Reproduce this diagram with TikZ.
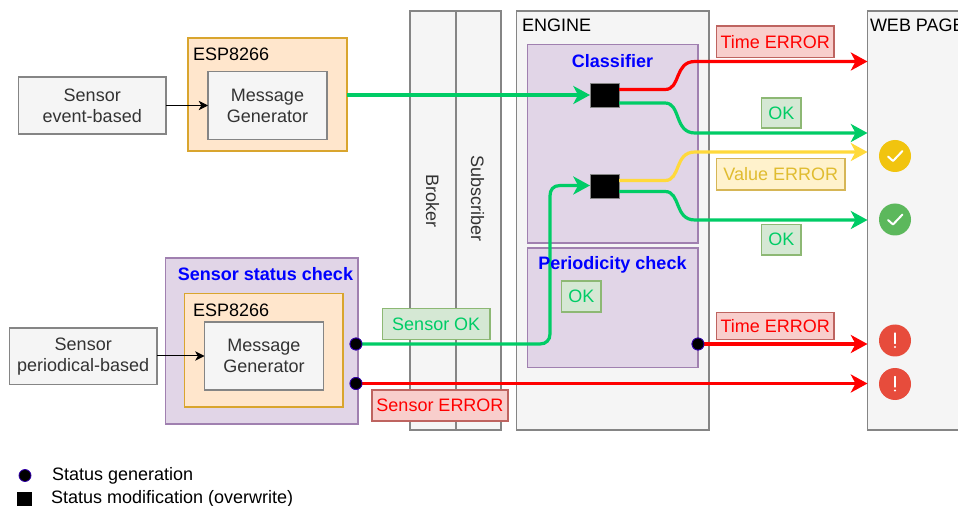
\documentclass[tikz,border=0pt]{standalone}
\usepackage{fontspec}
\setmainfont{Liberation Sans}
\usetikzlibrary{arrows.meta,calc}
\definecolor{grayfill}{HTML}{F5F5F5}
\definecolor{graydraw}{HTML}{858585}
\definecolor{graytext}{HTML}{333333}
\definecolor{orfill}{HTML}{FFE6CC}
\definecolor{ordraw}{HTML}{D9A52E}
\definecolor{pufill}{HTML}{E1D5E7}
\definecolor{pudraw}{HTML}{A080B0}
\definecolor{grfill}{HTML}{D5E8D4}
\definecolor{grdraw}{HTML}{8DB874}
\definecolor{grline}{HTML}{00CC66}
\definecolor{refill}{HTML}{F8CECC}
\definecolor{redraw}{HTML}{BE6460}
\definecolor{yefill}{HTML}{FFF2CC}
\definecolor{yedraw}{HTML}{D6B656}
\definecolor{yetext}{HTML}{E0BC30}
\definecolor{yeline}{HTML}{FFD93B}
\definecolor{icony}{HTML}{F1C40F}
\definecolor{icong}{HTML}{5CB85C}
\definecolor{iconr}{HTML}{E74C3C}
\newcommand{\pxbox}[7]{%
  \pgfmathsetmacro{\bw}{#5-#3}\pgfmathsetmacro{\bh}{#6-#4}%
  \node[#2,minimum width=\bw*0.75pt,minimum height=\bh*0.75pt] (#1) at ({(#3+#5)/2},{(#4+#6)/2}) {#7};}
\tikzset{
  x=0.75pt,y=-0.75pt,
  every node/.style={font=\fontsize{13.5pt}{15.75pt}\selectfont,inner sep=0pt,outer sep=0pt,align=center},
  graybox/.style={draw=graydraw,fill=grayfill,line width=0.8pt,text=graytext},
  espbox/.style={draw=ordraw,fill=orfill,line width=0.8pt},
  purplebox/.style={draw=pudraw,fill=pufill,line width=0.8pt},
  oktag/.style={draw=grdraw,fill=grfill,line width=0.8pt,text=grline},
  errtag/.style={draw=redraw,fill=refill,line width=0.8pt,text=red},
  yeltag/.style={draw=yedraw,fill=yefill,line width=0.8pt,text=yetext},
  titletext/.style={font=\fontsize{13.5pt}{16.2pt}\selectfont\bfseries,text=blue},
  plain/.style={text=black},
  flow/.style={line width=2.4pt,-{Stealth[length=12.5pt,width=13.5pt,inset=3.5pt]}},
  thin arrow/.style={draw=black,line width=0.75pt,-{Stealth[length=7pt,width=7pt,inset=2pt]}},
  gendot/.style={circle,fill=black,draw={rgb,255:red,50;green,0;blue,170},line width=0.6pt,minimum size=9pt},
  modsq/.style={fill=black,draw=graydraw,line width=0.4pt},
  icon/.style={circle,minimum size=24pt},
  iconmark/.style={draw=white,line width=1.5pt,line cap=round,line join=round},
}
\begin{document}
\begin{tikzpicture}
\useasboundingbox (0,0) rectangle (958,506);
\clip (0,0) rectangle (958,506);
\fill[white] (0,0) rectangle (958,506);
% containers
\pxbox{broker}{graybox}{410}{11}{456}{430}{}
\pxbox{subscriber}{graybox}{456}{11}{501}{430}{}
\node[plain,rotate=-90,text=graytext] (brokerlab) at (432.5,201) {Broker};
\node[plain,rotate=-90,text=graytext] (sublab) at (477.5,198.5) {Subscriber};
\pxbox{engine}{graybox}{516.5}{11}{709}{430}{}
\pxbox{web}{graybox}{867.5}{11}{990}{430}{}
\pxbox{classifier}{purplebox}{527.5}{44.5}{698}{243}{}
\pxbox{periodicity}{purplebox}{527.5}{248}{698}{367.5}{}
\node[plain,anchor=west] (enginelab) at (522,25.5) {ENGINE};
\node[plain,anchor=west] (weblab) at (870,25.5) {WEB PAGE};
% sensors
\pxbox{sensorA}{graybox}{18.5}{77}{166}{134}{Sensor\\event-based}
\pxbox{espA}{espbox}{188}{38}{347}{151}{}
\node[plain,anchor=west] (espAlab) at (193,54.5) {ESP8266};
\pxbox{msgA}{graybox}{208}{71.5}{327}{139.5}{Message\\Generator}
\pxbox{sensorB}{graybox}{9.5}{328}{157}{384.5}{Sensor\\periodical-based}
\pxbox{status}{purplebox}{165.5}{258}{358}{424}{}
\pxbox{espB}{espbox}{184.5}{293.5}{343}{407}{}
\node[plain,anchor=west] (espBlab) at (193,310.5) {ESP8266};
\pxbox{msgB}{graybox}{204.5}{322}{323.5}{390}{Message\\Generator}
\draw[thin arrow] (sensorA.east |- 105.5,105.5) -- (msgA.west |- 105.5,105.5);
\draw[thin arrow] (sensorB.east |- 356,356) -- (msgB.west |- 356,356);
% status points
\pxbox{sqA}{modsq}{590}{83.5}{619}{107.5}{}
\pxbox{sqB}{modsq}{590}{174.5}{619}{198}{}
\node[gendot] (dotOK) at (356,344) {};
\node[gendot] (dotERR) at (356,383.5) {};
\node[gendot] (dotTime) at (698,344) {};
\coordinate (sqAin) at (590,95);
\coordinate (sqBin) at (590,185.5);
\coordinate (sqAr) at (619,89.5);
\coordinate (sqAg) at (619,103);
\coordinate (sqBy) at (619,180.5);
\coordinate (sqBg) at (619,191.5);
\coordinate (espAout) at (347,95);
\coordinate (webA) at (867.5,61.5);
\coordinate (webB) at (867.5,133);
\coordinate (webC) at (867.5,152);
\coordinate (webD) at (867.5,220);
\coordinate (webE) at (867.5,344);
\coordinate (webF) at (867.5,383.5);
% connectors
\draw[flow,grline] (espAout) -- (sqAin);
\draw[flow,grline] (dotOK) -- (540,344) .. controls (546,344) and (550,340) .. (550,334) -- (550,196) .. controls (550,190) and (553,185.5) .. (560,185.5) -- (sqBin);
\draw[flow,red] (dotERR) -- (webF);
\draw[flow,red] (dotTime) -- (webE);
\draw[flow,red] (sqAr) -- (665,89.5) .. controls (681,89.5) and (674,61.5) .. (695,61.5) -- (webA);
\draw[flow,grline] (sqAg) -- (665,103) .. controls (681,103) and (674,133) .. (695,133) -- (webB);
\draw[flow,yeline] (sqBy) -- (665,180.5) .. controls (681,180.5) and (674,152) .. (695,152) -- (webC);
\draw[flow,grline] (sqBg) -- (665,191.5) .. controls (681,191.5) and (674,220) .. (695,220) -- (webD);
% dots above line ends
\node[gendot] at (dotOK) {};
\node[gendot] at (dotERR) {};
\node[gendot] at (dotTime) {};
% titles
\node[titletext] (clslab) at (612.5,61) {Classifier};
\node[titletext] (perlab) at (612.5,265) {Periodicity check};
\node[titletext] (stalab) at (265.5,274) {Sensor status check};
% tags
\pxbox{tagTimeA}{errtag}{716.5}{26}{834}{57.5}{Time ERROR}
\pxbox{tagOKa}{oktag}{761.5}{98}{801}{128}{OK}
\pxbox{tagValue}{yeltag}{716.5}{158.5}{845}{190}{Value ERROR}
\pxbox{tagOKb}{oktag}{761.5}{224.5}{801}{255}{OK}
\pxbox{tagTimeB}{errtag}{716.5}{312.5}{834}{339.5}{Time ERROR}
\pxbox{tagOKc}{oktag}{561.5}{281}{601}{312}{OK}
\pxbox{tagSensorOK}{oktag}{382.5}{308.5}{490}{339.5}{Sensor OK}
\pxbox{tagSensorERR}{errtag}{372}{390}{508}{421}{Sensor ERROR}
% icons
\node[icon,fill=icony] (iconA) at (895,156) {};
\node[icon,fill=icong] (iconB) at (895,219.5) {};
\node[icon,fill=iconr] (iconC) at (895,340.5) {};
\node[icon,fill=iconr] (iconD) at (895,384) {};
\draw[iconmark] ($(iconA)+(-7,0.5)$) -- ($(iconA)+(-2,5)$) -- ($(iconA)+(7.5,-5)$);
\draw[iconmark] ($(iconB)+(-7,0.5)$) -- ($(iconB)+(-2,5)$) -- ($(iconB)+(7.5,-5)$);
\draw[iconmark,line width=0.9pt] ($(iconC)+(0,-7.5)$) -- ($(iconC)+(0,3)$);
\fill[white] ($(iconC)+(0,6.5)$) circle (1.1);
\draw[iconmark,line width=0.9pt] ($(iconD)+(0,-7.5)$) -- ($(iconD)+(0,3)$);
\fill[white] ($(iconD)+(0,6.5)$) circle (1.1);
% legend
\node[gendot] (legdot) at (25,475.5) {};
\pxbox{legsq}{fill=black}{17}{492}{32}{507}{}
\node[plain,anchor=west,text=black] (legA) at (52,476) {Status generation};
\node[plain,anchor=west,text=black] (legB) at (51,499) {Status modification (overwrite)};
\end{tikzpicture}
\end{document}
